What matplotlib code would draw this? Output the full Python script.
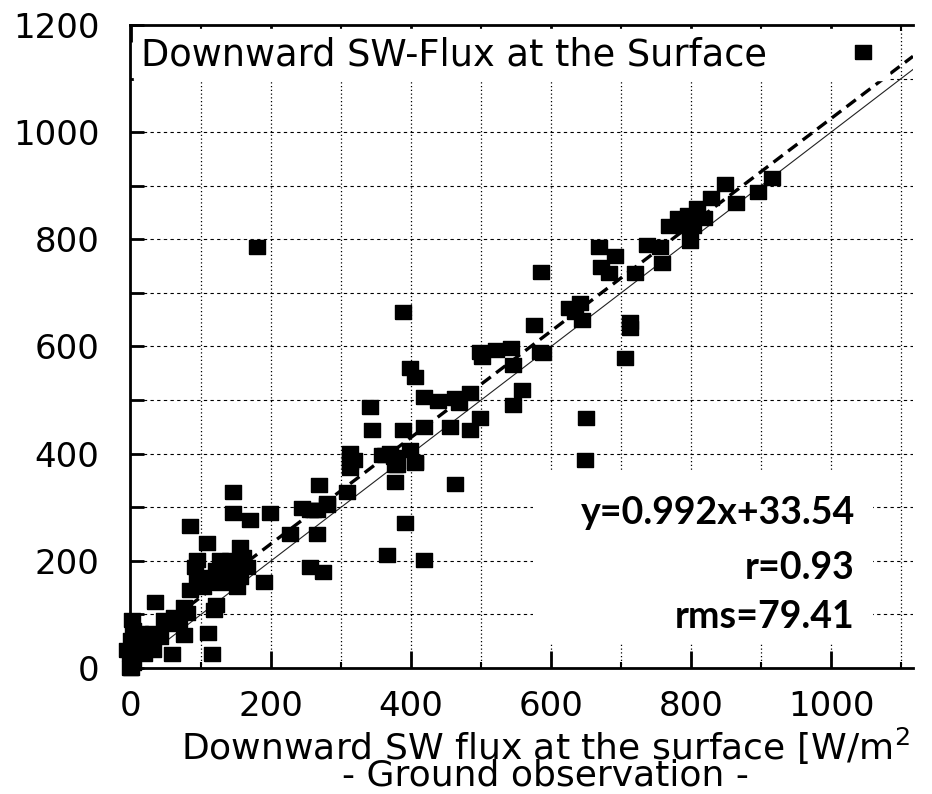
import matplotlib.pyplot as plt
from matplotlib.ticker import MultipleLocator
from matplotlib.patches import Rectangle
import numpy as np

plt.rcParams['font.family'] = ['DejaVu Sans']
plt.rcParams['mathtext.fontset'] = 'dejavusans'

# ground observation (x) vs model (y), W/m2
obs = [915, 895, 848, 828, 864, 808, 818, 796, 782, 768, 789, 803, 799, 669, 691,
       671, 683, 720, 737, 756, 758, 625, 641, 644, 634, 713, 713, 706, 650, 649,
       586, 389, 575, 499, 522, 543, 501, 546, 584, 589, 399, 406, 418, 439, 463,
       468, 484, 558, 546, 341, 344, 389, 418, 456, 484, 499, 313, 313, 313, 358,
       370, 377, 399, 405, 363, 375, 380, 406, 318, 377, 463, 268, 308, 256, 280,
       265, 265, 391, 365, 418, 256, 274,
       180, 146, 146, 170, 199, 84, 244, 260, 280, 227, 108, 94, 91, 156, 160,
       141, 127, 122, 141, 156, 151, 127, 108, 94, 84, 165, 103, 190, 122, 118,
       110, 115, 34, 75, 80, 68, 61, 51, 47, 75, 58, 32, 41, 22, 13,
       3, 8, -1, 18, 32, 3, -6, 0, -2, 0, 2]
model = [914, 889, 903, 878, 867, 858, 839, 845, 839, 824, 824, 824, 797, 786, 768,
         749, 737, 737, 789, 786, 755, 671, 681, 650, 665, 646, 634, 578, 467, 388,
         739, 665, 640, 590, 594, 597, 581, 566, 590, 588, 559, 544, 506, 499, 503,
         494, 513, 518, 491, 488, 444, 444, 450, 450, 444, 466, 401, 385, 373, 398,
         401, 379, 407, 385, 398, 394, 379, 382, 388, 348, 343, 342, 329, 295, 307,
         295, 251, 270, 211, 202, 189, 180,
         785, 329, 289, 276, 289, 265, 298, 295, 304, 251, 233, 202, 189, 226, 208,
         202, 202, 183, 177, 170, 152, 158, 170, 164, 146, 189, 152, 161, 118, 108,
         65, 27, 124, 114, 102, 90, 96, 83, 90, 62, 27, 65, 58, 52, 65,
         71, 40, 27, 27, 34, 9, 34, 0, 0, 52, 90]

slope = 0.992
intercept = 33.54
r_value = 0.93
rms_value = 79.41

fig = plt.figure(figsize=(9.32, 7.94), dpi=100)
ax = fig.add_axes([130 / 932, 126 / 794, 783 / 932, 643 / 794])
ax.set_xlim(-1.5, 1117)
ax.set_ylim(0, 1200)

# grid: dotted verticals, dashed horizontals
for gx in range(100, 1101, 100):
    ax.axvline(gx, color='black', lw=0.9, ls=(0, (1, 2)), zorder=0)
for gy in range(100, 1101, 100):
    ax.axhline(gy, color='black', lw=0.8, ls=(0, (3, 3)), zorder=0)

# white area behind statistics
ax.add_patch(Rectangle((574, 45), 486, 325, facecolor='white', edgecolor='none', zorder=1))

xx = np.array([0, 1117])
ax.plot(xx, xx, color='#222222', lw=0.8, zorder=2)
ax.plot(xx, slope * xx + intercept, color='black', lw=2.4, dashes=(3.5, 2), zorder=2)

rect = [(-1.2, -1), (1.2, -1), (1.2, 1), (-1.2, 1), (-1.2, -1)]
pts, = ax.plot(obs, model, ls='none', marker=rect, ms=11.5, color='black',
               clip_on=False, zorder=3, label='Downward SW-Flux at the Surface')

leg = ax.legend(handles=[pts], loc='upper left', bbox_to_anchor=(0, 1), borderaxespad=0.1,
                markerfirst=False, frameon=True, fancybox=False, framealpha=1,
                edgecolor='white', facecolor='white', handlelength=1, handletextpad=2.1,
                borderpad=0.2, fontsize=26.5)
leg.set_zorder(4)

stat_kw = dict(ha='right', va='center', fontsize=27, fontweight='bold', family='Lato', zorder=5)
ax.text(1034, 289, 'y=%.3fx+%.2f' % (slope, intercept), **stat_kw)
ax.text(1034, 187, 'r=%.2f' % r_value, **stat_kw)
ax.text(1034, 95, 'rms=%.2f' % rms_value, **stat_kw)

for s in ['left', 'bottom', 'top']:
    ax.spines[s].set_linewidth(2)
ax.spines['right'].set_visible(False)

ax.xaxis.set_major_locator(MultipleLocator(200))
ax.xaxis.set_minor_locator(MultipleLocator(100))
ax.yaxis.set_major_locator(MultipleLocator(200))
ax.yaxis.set_minor_locator(MultipleLocator(100))
ax.tick_params(axis='x', which='major', direction='in', length=12, width=2, top=True,
               labelsize=24.5, pad=16)
ax.tick_params(axis='x', which='minor', direction='in', length=4, width=1.5, top=True)
ax.tick_params(axis='y', which='major', direction='in', length=10, width=2,
               labelsize=24.5, pad=22)
ax.tick_params(axis='y', which='minor', direction='in', length=10, width=2)

fig.text(545 / 932, 1 - 785 / 794,
         'Downward SW flux at the surface [W/m$^2$\n- Ground observation -',
         fontsize=26, ha='center', va='baseline', multialignment='center', linespacing=0.66)

fig.savefig('out.png', dpi=100)
